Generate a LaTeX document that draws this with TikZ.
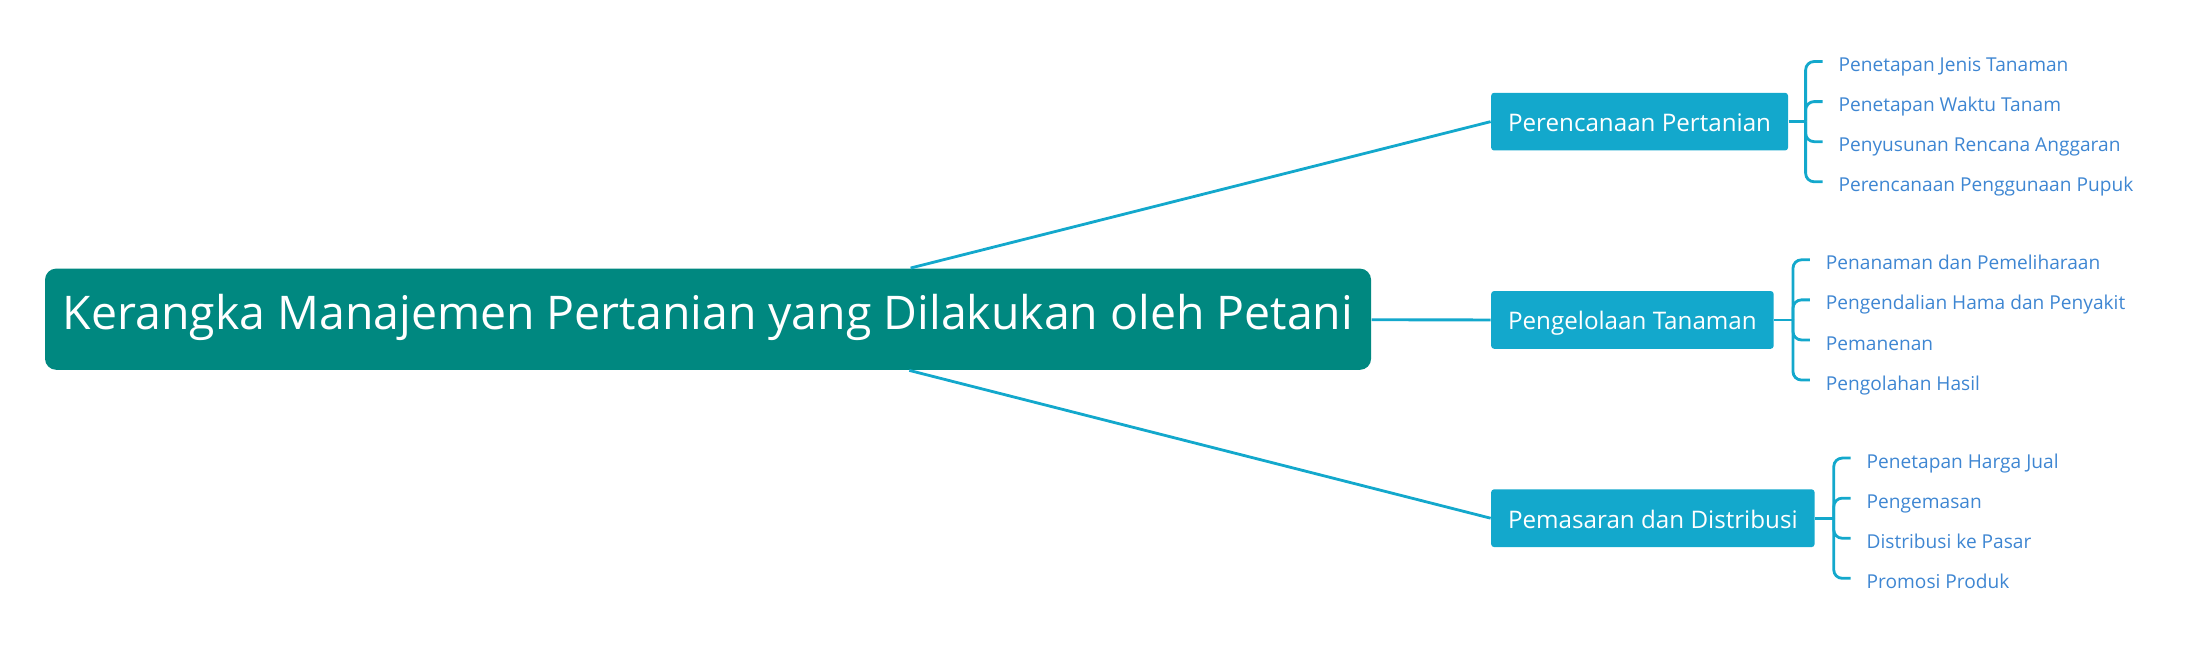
\documentclass[tikz,border=0pt]{standalone}
\usepackage{fontspec}
\setmainfont{Open Sans}
\definecolor{rootteal}{RGB}{0,136,128}
\definecolor{branchcyan}{RGB}{19,168,204}
\definecolor{leafblue}{RGB}{62,134,210}
\begin{document}
\begin{tikzpicture}[x=0.5pt, y=-0.5pt,
        root/.style={rectangle, rounded corners=4pt, fill=rootteal, text=white, minimum width=471.5pt, minimum height=36pt, text height=1.335ex, text depth=0pt, font=\fontsize{16.5}{19}\selectfont},
        branch/.style={rectangle, rounded corners=1pt, fill=branchcyan, text=white, anchor=west, minimum height=20.5pt, inner xsep=6pt, text height=1.335ex, text depth=0pt, font=\fontsize{8.6}{10}\selectfont},
        leaf/.style={anchor=west, inner xsep=5.5pt, inner ysep=0pt, text height=1.335ex, text depth=0pt, text=leafblue, font=\fontsize{6.8}{8}\selectfont},
        line/.style={draw=branchcyan, line width=1pt},
        brace/.style={line, rounded corners=3pt}]

        \useasboundingbox (0,0) rectangle (1568,465);

        % Root
        \node[root] (root) at (503.5,227) {Kerangka Manajemen Pertanian yang Dilakukan oleh Petani};

        % Branches
        \node[branch] (plan) at (1060,86.5) {Perencanaan Pertanian};
        \node[branch] (crop) at (1060,227.5) {Pengelolaan Tanaman};
        \node[branch] (market) at (1060,368.5) {Pemasaran dan Distribusi};

        % Leaves
        \node[leaf] (plan1) at (1296,43.75) {Penetapan Jenis Tanaman};
        \node[leaf] (plan2) at (1296,72.25) {Penetapan Waktu Tanam};
        \node[leaf] (plan3) at (1296,100.75) {Penyusunan Rencana Anggaran};
        \node[leaf] (plan4) at (1296,129.25) {Perencanaan Penggunaan Pupuk};

        \node[leaf] (crop1) at (1287,184.75) {Penanaman dan Pemeliharaan};
        \node[leaf] (crop2) at (1287,213.25) {Pengendalian Hama dan Penyakit};
        \node[leaf] (crop3) at (1287,241.75) {Pemanenan};
        \node[leaf] (crop4) at (1287,270.25) {Pengolahan Hasil};

        \node[leaf] (market1) at (1316,325.75) {Penetapan Harga Jual};
        \node[leaf] (market2) at (1316,354.25) {Pengemasan};
        \node[leaf] (market3) at (1316,382.75) {Distribusi ke Pasar};
        \node[leaf] (market4) at (1316,411.25) {Promosi Produk};

        % Root to branches
        \draw[line] (root) -- (plan.west);
        \draw[line] (root) -- (crop.west);
        \draw[line] (root) -- (market.west);

        % Branches to leaves
        \coordinate (planfork) at (1284,86.5);
        \coordinate (cropfork) at (1275,227.5);
        \coordinate (marketfork) at (1304,368.5);
        \draw[line] (plan.east) -- (planfork);
        \draw[line] (crop.east) -- (cropfork);
        \draw[line] (market.east) -- (marketfork);
        \foreach \i in {1,...,4} {
            \draw[brace] (planfork) |- (plan\i.west);
            \draw[brace] (cropfork) |- (crop\i.west);
            \draw[brace] (marketfork) |- (market\i.west);
        }
    \end{tikzpicture}
\end{document}
